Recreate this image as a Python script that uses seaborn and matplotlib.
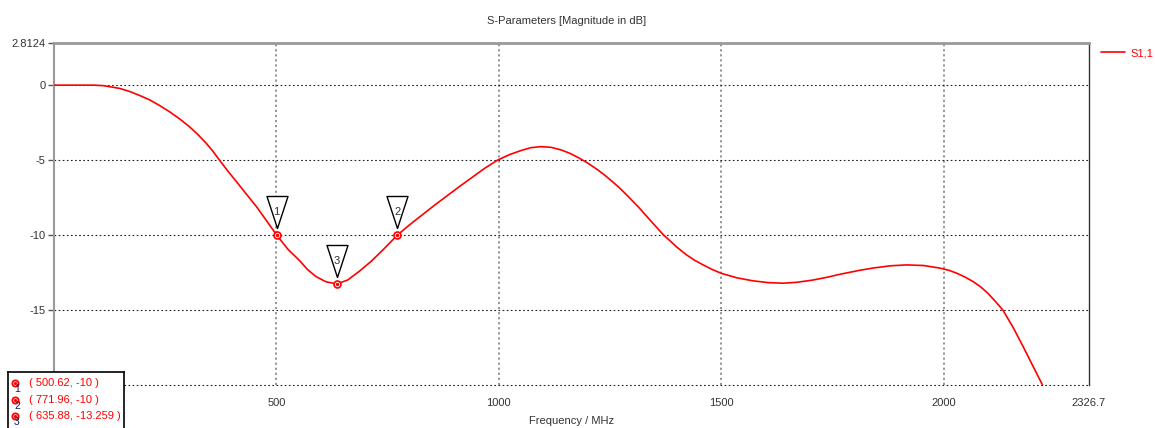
import numpy as np
import pandas as pd
import seaborn as sns
import matplotlib
matplotlib.use('Agg')
import matplotlib.pyplot as plt

sns.set_theme(style='white')
plt.rcParams['font.family'] = ['Liberation Sans', 'DejaVu Sans']

# S1,1 trace (MHz, dB)
freq = [0, 60, 90, 110, 125, 148, 170, 192, 215, 237, 259, 282, 304, 323, 342, 357,
        372, 390, 410, 432, 455, 478, 500.62, 526, 552, 570, 589, 612, 635.88, 660,
        687, 713, 739, 771.96, 800, 830, 858, 885, 912, 940, 968, 997, 1025, 1050,
        1072, 1095, 1118, 1140, 1160, 1181, 1200, 1220, 1238, 1256, 1273, 1290,
        1316, 1340, 1369, 1400, 1421, 1440, 1460, 1480, 1500, 1535, 1571, 1605,
        1639, 1670, 1706, 1740, 1766, 1811, 1841, 1880, 1916, 1955, 1991, 2012,
        2030, 2048, 2066, 2083, 2100, 2117, 2133, 2155, 2178, 2200, 2223, 2270,
        2326.7]
s11 = [0, 0, 0, -0.03, -0.1, -0.22, -0.42, -0.68, -0.98, -1.35, -1.76, -2.24, -2.76,
       -3.28, -3.87, -4.4, -5.0, -5.7, -6.43, -7.25, -8.1, -9.05, -10, -10.95, -11.7,
       -12.3, -12.77, -13.12, -13.259, -13.0, -12.4, -11.75, -11.0, -10, -9.3, -8.6,
       -7.95, -7.35, -6.75, -6.15, -5.55, -5.0, -4.62, -4.36, -4.17, -4.1, -4.15,
       -4.32, -4.55, -4.87, -5.2, -5.6, -6.0, -6.45, -6.9, -7.4, -8.2, -9.0, -9.95,
       -10.8, -11.3, -11.68, -12.0, -12.3, -12.55, -12.85, -13.05, -13.17, -13.21,
       -13.15, -13.0, -12.8, -12.62, -12.35, -12.2, -12.05, -11.99, -12.03, -12.2,
       -12.35, -12.55, -12.8, -13.1, -13.45, -13.9, -14.45, -15.0, -16.1, -17.4,
       -18.7, -20.05, -22.9, -26.5]

# markers
mk_id = ['1', '2', '3']
mk_f = [500.62, 771.96, 635.88]
mk_db = [-10, -10, -13.259]

xticks = [500, 1000, 1500, 2000, 2326.7]
yticks = [2.8124, 0, -5, -10, -15]
xmin, xmax = 0, 2326.7
ymin, ymax = -20, 2.8124

df = pd.DataFrame({'Frequency': freq, 'S11': s11})

W, H = 1155, 428
fig = plt.figure(figsize=(W / 100, H / 100), dpi=100)
fig.patch.set_facecolor('white')
ax = fig.add_axes([54 / W, 1 - 385 / H, (1089 - 54) / W, (385 - 43) / H])

sns.lineplot(data=df, x='Frequency', y='S11', ax=ax, color='#ff0000', lw=1.2,
             label='S1,1', sort=False, zorder=3)

ax.set_xlim(xmin, xmax)
ax.set_ylim(ymin, ymax)

# grid lines
for v in [500, 1000, 1500, 2000]:
    ax.axvline(v, color='#8c8c8c', lw=1.3, ls=(0, (1.2, 1.6)), zorder=1)
for h in [0, -5, -10, -15, -20]:
    ax.axhline(h, color='#202020', lw=0.8, ls=(0, (1.5, 2.2)), zorder=1,
               clip_on=False)

ax.set_xticks(xticks)
ax.set_xticklabels(['500', '1000', '1500', '2000', '2326.7'])
ax.set_yticks(yticks)
ax.set_yticklabels(['2.8124', '0', '-5', '-10', '-15'])
ax.tick_params(axis='x', length=0, pad=9, labelsize=8, colors='#333333')
ax.tick_params(axis='y', length=4, width=1, color='#555555', pad=2, labelsize=8,
               labelcolor='#333333', left=True)
ax.set_xlabel('Frequency / MHz', fontsize=8, color='#333333', labelpad=6)
ax.set_ylabel('')

ax.spines['top'].set_color('#9a9a9a')
ax.spines['top'].set_linewidth(2)
ax.spines['left'].set_color('#9a9a9a')
ax.spines['left'].set_linewidth(1.5)
ax.spines['right'].set_color('#333333')
ax.spines['right'].set_linewidth(1)
ax.spines['bottom'].set_visible(False)

# marker points and flags
ax.plot(mk_f, mk_db, ls='none', marker='o', ms=5, mfc='white', mec='#ff0000',
        mew=1.2, zorder=5)
ax.plot(mk_f, mk_db, ls='none', marker='o', ms=1.5, color='#ff0000', zorder=6)
tri = [(0, 7), (-10.5, 39), (10.5, 39), (0, 7)]
ax.plot(mk_f, mk_db, ls='none', marker=tri, ms=56.16, mfc='white', mec='black',
        mew=1, zorder=4)
for lab, f, d in zip(mk_id, mk_f, mk_db):
    ax.annotate(lab, xy=(f, d), xytext=(0, 16.5), textcoords='offset points',
                ha='center', va='center', fontsize=8, color='#333333', zorder=7)

leg = ax.legend(loc='upper left', bbox_to_anchor=(1101 / W, 1 - 48 / H),
                bbox_transform=fig.transFigure, frameon=False, fontsize=8,
                handlelength=2.2, handletextpad=0.45, borderpad=0, borderaxespad=0,
                labelcolor='#ff0000')

fig.text(567 / W, 1 - 21 / H, 'S-Parameters [Magnitude in dB]', ha='center',
         va='center', fontsize=8, color='#333333')

# marker readout box
bx = fig.add_axes([8 / W, 0, (124 - 8) / W, (428 - 372) / H])
bx.set_xlim(0, 116)
bx.set_ylim(56, 0)
bx.set_xticks([])
bx.set_yticks([])
bx.set_facecolor('white')
for s in ['top', 'left', 'right']:
    bx.spines[s].set_color('black')
    bx.spines[s].set_linewidth(1.2)
bx.spines['bottom'].set_visible(False)
rows = [11, 28, 44]
for lab, f, d, r in zip(mk_id, mk_f, mk_db, rows):
    bx.plot([6.5], [r], marker='o', ms=4.5, mfc='white', mec='#ff0000', mew=1.3)
    bx.plot([6.5], [r], marker='o', ms=1.3, color='#ff0000')
    bx.text(9, r + 6, lab, ha='center', va='center', fontsize=7.5, color='#1a1a60')
    bx.text(21, r, f'( {f:g}, {d:g} )', ha='left', va='center', fontsize=8,
            color='#ff0000')

fig.savefig('out.png', dpi=100)
